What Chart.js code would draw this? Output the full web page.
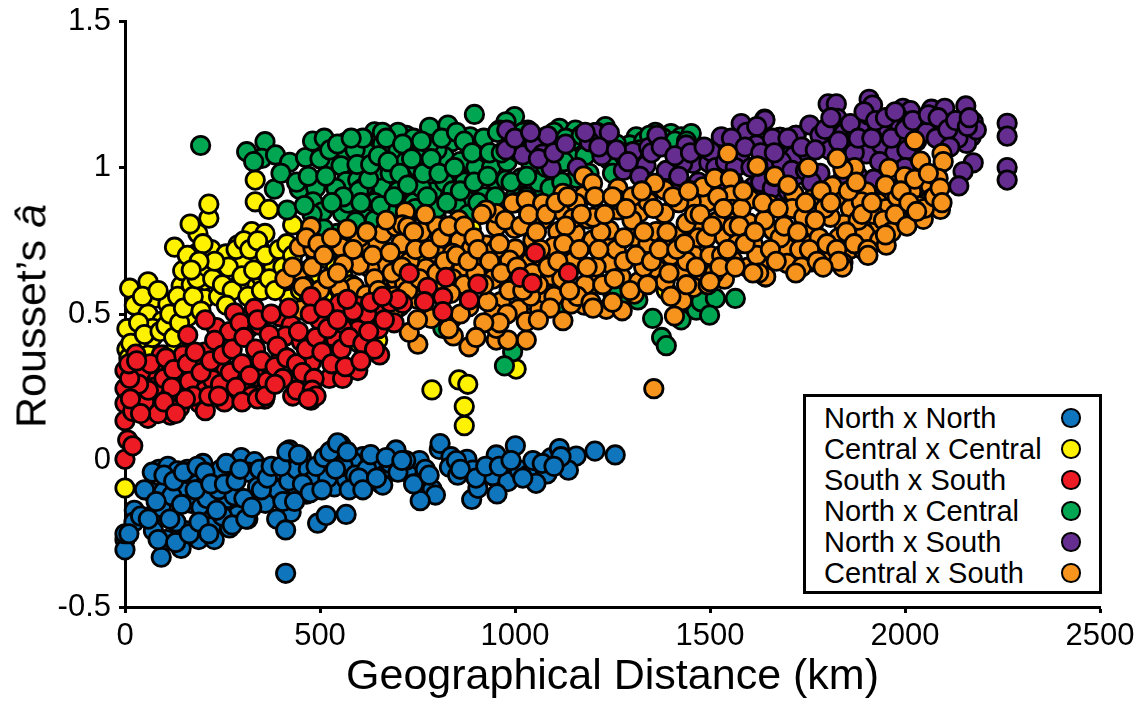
<!DOCTYPE html>
<html>
<head>
<meta charset="utf-8">
<style>
    html, body { margin: 0; background: #fff; }
    #wrap { position: relative; width: 1147px; height: 703px; overflow: hidden; font-family: "Liberation Sans", Arial, sans-serif; color: #000; }
    #yTitle { position: absolute; left: 31px; top: 316px; font-size: 43px; white-space: nowrap; transform: translate(-50%, -50%) rotate(-90deg); }
    #legendBox { position: absolute; left: 803px; top: 394px; width: 293px; height: 194px; border: 3.5px solid #000; background: #fff; }
    .row { position: absolute; left: 18px; width: 268px; height: 31px; line-height: 31px; font-size: 29px; white-space: nowrap; }
    .dot { position: absolute; left: 237px; top: 5px; width: 15.5px; height: 15.5px; border: 2.8px solid #000; border-radius: 50%; }
</style>
</head>
<body>
<div id="wrap">
    <canvas id="myChart" width="1147" height="703"></canvas>
    <div id="yTitle">Rousset’s <i>â</i></div>
    <div id="legendBox"></div>
</div>
<script src="https://cdn.jsdelivr.net/npm/chart.js@4"></script>
<script>
    const xTicks = [0, 500, 1000, 1500, 2000, 2500];
    const yTicks = [-0.5, 0, 0.5, 1, 1.5];
    const seriesNames = ["North x North", "Central x Central", "South x South", "North x Central", "North x South", "Central x South"];
    const seriesColors = ["#0f75bc", "#fff200", "#ed1c24", "#00a651", "#662d91", "#f7941d"];
    // higher number is painted first
    const paintOrder = [6, 5, 1, 4, 3, 2];

    // [distance km, rousset a]
    const northNorth = [[0,-.27],[0,-.305],[0,-.25],[24,-.17],[23,-.21],[67,-.19],[73,-.24],[93,-.33],[105,-.27],[144,-.30],[189,-.27],[229,-.27],[157,-.24],[131,-.21],[93,-.16],[65,-.106],[99,-.106],[87,-.03],[110,-.02],[135,-.035],[153,-.106],[170,-.146],[195,-.16],[225,-.197],[221,-.226],[268,-.23],[289,-.186],[315,-.20],[264,-.13],[200,-.01],[174,-.04],[246,-.03],[298,.01],[332,-.004],[315,-.04],[319,-.135],[360,-.146],[392,-.10],[386,-.035],[426,.013],[422,.036],[452,.013],[426,-.046],[426,-.177],[389,-.20],[412,-.237],[412,-.385],[494,-.214],[516,-.188],[567,-.184],[499,-.06],[465,-.115],[443,-.11],[537,-.09],[567,-.064],[610,.013],[554,.053],[533,.036],[520,-.004],[584,-.004],[635,-.02],[665,-.05],[695,.036],[657,-.08],[661,-.084],[723,-.038],[755,0],[806,.038],[808,.058],[788,-.099],[796,-.118],[757,-.137],[836,.013],[877,.004],[832,-.023],[853,-.05],[892,-.033],[889,-.133],[905,-.095],[952,.019],[1001,.05],[973,-.021],[943,-.052],[982,-.072],[954,-.114],[1011,-.033],[1033,-.05],[1046,0],[1093,.01],[1114,.041],[1157,.015],[1082,-.046],[1054,-.078],[1137,-.033],[1205,.032],[1257,.019],[1118,.013],[120,-.12],[160,-.03],[210,-.13],[240,-.10],[250,-.19],[280,-.12],[340,-.09],[360,-.03],[420,-.07],[440,-.03],[470,-.03],[480,-.07],[520,-.06],[560,-.02],[590,-.05],[620,-.03],[680,-.01],[720,0],[10,-.25],[40,-.19],[50,-.1],[60,-.2],[70,-.04],[80,-.14],[85,-.27],[100,-.05],[115,-.2],[125,-.07],[130,-.28],[145,-.15],[150,-.04],[165,-.25],[180,-.10],[185,-.02],[190,-.21],[205,-.04],[215,-.25],[220,-.08],[235,-.17],[255,-.08],[260,-.01],[275,-.22],[285,-.07],[295,-.03],[305,-.13],[310,-.20],[325,-.16],[345,-.03],[350,-.1],[365,-.06],[375,-.02],[400,-.02],[405,-.14],[415,.03],[435,-.14],[445,.02],[455,-.08],[475,-.11],[490,-.02],[505,-.1],[510,.01],[525,.03],[540,-.03],[545,.06],[570,.03],[575,-.1],[600,-.06],[610,-.1],[630,.02],[645,-.06],[670,.01],[700,-.04],[710,0],[740,-.08],[770,-.03],[780,-.05],[850,0],[860,-.03],[900,-.06],[925,-.02],[960,-.02],[990,0],[1020,-.06],[1070,-.01],[1100,-.02]];
    const centralCentral = [[12,.588],[59,.61],[24,.53],[75,.553],[110,.534],[59,.50],[95,.476],[18,.451],[20,.428],[71,.451],[165,.536],[144,.596],[204,.553],[161,.491],[127,.728],[148,.648],[182,.705],[187,.775],[167,.807],[215,.827],[215,.875],[221,.72],[238,.659],[204,.614],[259,.705],[290,.736],[325,.781],[359,.775],[317,.69],[302,.673],[345,.724],[345,.622],[311,.591],[292,.599],[400,.718],[358,.644],[334,.957],[334,.883],[369,.857],[430,.804],[512,.69],[567,.741],[396,.593],[422,.553],[558,.633],[648,.41],[0,-.094],[5,.38],[30,.40],[60,.36],[100,.36],[130,.38],[10,.35],[70,.42],[787,.241],[856,.275],[879,.26],[870,.184],[870,.119],[1003,.312],[380,.66],[420,.62],[450,.58],[480,.62],[530,.58],[400,.49],[600,.40],[630,.38],[640,.45],[888,.792],[806,.775],[759,.70],[1388,.58],[5,.45],[15,.40],[35,.47],[45,.56],[50,.43],[85,.58],[90,.44],[105,.46],[115,.50],[125,.42],[135,.56],[140,.47],[150,.52],[170,.60],[175,.56],[185,.62],[195,.51],[210,.66],[225,.62],[240,.56],[250,.60],[265,.66],[275,.58],[285,.72],[300,.63],[305,.75],[315,.56],[320,.72],[330,.65],[340,.75],[350,.58],[360,.70],[370,.62],[385,.58],[395,.72],[405,.66],[415,.74],[430,.70],[440,.63],[460,.60],[470,.54],[490,.70],[510,.55],[540,.66],[545,.50],[570,.48],[590,.45],[610,.48],[580,.60],[160,.70],[200,.74],[230,.68],[260,.53],[190,.68],[170,.65]];
    const southSouth = [[281,.504],[332,.519],[234,.454],[206,.48],[161,.428],[317,.451],[398,.491],[426,.462],[412,.425],[452,.406],[477,.559],[500,.477],[550,.536],[597,.527],[653,.497],[597,.445],[558,.451],[268,.44],[345,.462],[541,.41],[0,.307],[0,.246],[0,.195],[0,.136],[20,.167],[7,.07],[0,.004],[20,.05],[56,.263],[59,.144],[116,.155],[118,.22],[118,.315],[93,.36],[28,.363],[149,.272],[187,.315],[234,.315],[204,.238],[191,.195],[206,.17],[266,.218],[315,.24],[358,.209],[358,.258],[358,.30],[400,.363],[432,.28],[477,.206],[477,.334],[524,.28],[558,.28],[597,.307],[653,.36],[520,.363],[204,.37],[149,.36],[310,.275],[259,.31],[46,.23],[88,.207],[225,.275],[336,.286],[536,.332],[122,.19],[20,.31],[80,.298],[729,.639],[776,.591],[823,.625],[815,.557],[768,.542],[712,.536],[815,.508],[905,.602],[883,.548],[1013,.625],[1044,.605],[1052,.709],[1137,.641],[620,.50],[680,.54],[650,.45],[700,.55],[690,.47],[30,.22],[40,.30],[50,.20],[65,.33],[75,.25],[85,.16],[100,.28],[105,.35],[125,.31],[135,.24],[140,.18],[160,.33],[165,.27],[175,.22],[180,.37],[195,.30],[215,.22],[220,.34],[230,.41],[245,.26],[250,.36],[255,.20],[270,.30],[275,.38],[285,.25],[295,.47],[300,.33],[305,.42],[320,.29],[325,.22],[335,.38],[340,.48],[350,.34],[365,.27],[370,.43],[375,.50],[385,.32],[390,.39],[405,.28],[415,.35],[420,.52],[440,.33],[445,.44],[455,.30],[465,.38],[475,.50],[485,.28],[490,.42],[505,.37],[510,.52],[520,.45],[530,.33],[545,.48],[555,.38],[565,.32],[575,.42],[585,.51],[610,.40],[625,.44],[640,.38],[665,.48],[605,.34],[630,.54],[660,.56],[570,.55],[430,.22],[440,.24],[480,.24],[490,.22],[300,.20],[340,.21],[360,.22],[385,.26],[240,.22],[155,.21],[120,.25],[60,.24],[35,.26],[12,.28],[14,.21],[40,.16],[100,.20],[130,.16],[470,.21],[10,.33],[30,.34]];
    const northCentral = [[194,1.075],[312,1.054],[359,1.088],[351,1.031],[386,1.043],[422,1.018],[463,1.034],[481,1.09],[511,1.10],[565,1.085],[567,1.037],[533,1.014],[554,1.006],[618,.997],[642,1.103],[640,1.122],[687,1.105],[644,.969],[687,.98],[383,.926],[447,.926],[489,.931],[482,.883],[416,.855],[567,.952],[541,.929],[506,.849],[648,.90],[618,.857],[558,.844],[592,.815],[676,.849],[544,.775],[572,.878],[597,.957],[640,.82],[781,1.137],[828,1.145],[896,1.181],[838,1.088],[885,1.105],[757,1.054],[819,1.037],[943,1.039],[909,1.043],[794,.989],[738,.963],[768,.948],[856,.966],[789,.917],[885,.912],[832,.878],[875,.889],[798,.834],[721,1.11],[999,1.174],[977,1.156],[1033,1.128],[960,1.128],[947,.957],[977,.957],[1016,.965],[1041,1.014],[1114,1.134],[1155,1.128],[1110,1.077],[1140,1.035],[1148,1.094],[1232,1.14],[1311,1.105],[1294,1.077],[1400,1.116],[1426,1.105],[1452,1.116],[1242,1.025],[1157,.963],[1063,.912],[994,.371],[973,.323],[815,.451],[836,.48],[1353,.485],[1426,.48],[1376,.42],[1388,.392],[1465,.513],[1477,.542],[1514,.553],[1499,.496],[1565,.553],[1315,.548],[1272,.536],[1114,.525],[1251,.57],[620,1.05],[660,1.08],[700,1.06],[720,1.02],[660,.93],[700,.92],[740,.88],[760,.85],[800,.86],[850,.87],[720,.82],[640,.88],[610,.93],[680,.98],[750,1.0],[800,1.06],[860,1.02],[900,1.0],[940,1.0],[980,1.02],[1000,.9],[1060,.95],[1090,1.03],[1200,1.06],[1240,1.09],[1330,1.09],[1380,1.1],[1400,1.08],[1360,1.12],[1000,.88],[920,.9],[870,.95],[820,.95],[760,.93],[700,1.12],[740,1.1],[780,1.08],[660,1.12],[1000,1.1],[1050,1.07],[880,.84],[840,.92],[600,.92],[560,.9],[530,.88],[590,1.06],[610,1.1],[330,1.02],[400,.98],[440,.95],[470,.97],[500,1.03],[515,.97],[525,1.06],[545,1.08],[580,1.1],[595,1.01],[605,.88],[625,.96],[630,1.01],[650,1.04],[655,.87],[670,1.1],[675,1.02],[690,.9],[705,.98],[712,1.08],[725,.94],[735,1.03],[745,.86],[760,1.09],[765,.98],[775,.9],[785,1.03],[805,.98],[812,1.1],[825,.88],[845,1.0],[850,1.12],[860,.92],[870,1.09],[890,1.05],[895,.95],[905,.88],[920,1.1],[930,.97],[935,1.05],[950,.9],[955,1.12],[965,1.05],[990,.95],[1010,1.05],[1020,1.12],[1030,.97],[1070,1.1],[1080,1.0],[1100,1.12],[1125,1.02],[1130,1.1],[1170,1.11],[1180,1.04],[1210,1.12],[1260,1.08],[1280,1.04],[1320,1.06],[1345,1.11],[1410,1.09],[1440,1.09],[1030,.9],[1090,.93],[1120,.95],[1190,.98],[1250,.98],[1300,1.0],[1060,.87],[720,.78],[620,.78],[590,.75],[510,.79],[550,.72],[480,.84],[460,.87]];
    const northSouth = [[979,1.128],[1020,1.043],[1050,1.08],[1084,1.108],[1071,1.046],[1093,.997],[977,1.06],[1205,1.119],[1242,1.119],[1191,1.088],[1223,1.04],[1278,.99],[1302,1.054],[1343,1.068],[1336,1.008],[1364,1.11],[1439,1.077],[1456,1.014],[1497,1.016],[1529,1.105],[1503,1.054],[1600,1.128],[1580,1.15],[1640,1.165],[1680,1.103],[1685,1.02],[1721,1.11],[1576,1.043],[1652,1.014],[1405,.923],[1388,.99],[1430,1.014],[1704,1.04],[1641,1.162],[1594,1.12],[1679,1.103],[1720,1.11],[1756,1.145],[1782,1.11],[1803,1.217],[1824,1.217],[1826,1.168],[1884,1.137],[1843,1.117],[1905,1.18],[1908,1.233],[1917,1.213],[1957,1.13],[1995,1.202],[2014,1.194],[1985,1.168],[1987,1.145],[2068,1.199],[2047,1.162],[2072,1.145],[2102,1.202],[2098,1.145],[2156,1.21],[2175,1.156],[2147,1.14],[2170,1.105],[2158,1.082],[2175,1.016],[2149,.986],[2138,.937],[2262,1.151],[2262,1.107],[2262,1.0],[2262,.957],[1716,1.04],[1752,1.048],[1683,1.02],[1807,1.06],[1850,1.082],[1901,1.046],[1940,1.077],[1974,1.05],[1991,1.10],[1619,1.077],[1722,.974],[1782,.98],[1901,.94],[1944,.934],[1611,.934],[1679,.90],[2034,1.128],[2123,1.117],[2183,1.128],[2136,1.10],[1000,1.1],[1040,1.12],[1060,1.03],[1100,1.05],[1130,1.08],[1160,1.0],[1180,1.12],[1215,1.07],[1260,1.06],[1290,1.02],[1320,.97],[1350,1.05],[1375,1.07],[1410,1.04],[1420,.97],[1450,1.05],[1470,.95],[1485,1.07],[1515,1.0],[1540,1.02],[1555,1.1],[1565,1.0],[1590,1.07],[1605,1.0],[1620,1.14],[1630,1.05],[1660,1.1],[1665,1.05],[1700,1.1],[1710,.99],[1735,1.07],[1745,.99],[1770,1.06],[1795,1.13],[1810,1.17],[1830,1.09],[1860,1.15],[1870,1.05],[1880,1.1],[1895,1.19],[1915,1.1],[1925,1.16],[1935,1.02],[1950,1.17],[1965,1.1],[1975,1.19],[2000,1.13],[2005,1.06],[2020,1.16],[2030,1.09],[2055,1.12],[2060,1.18],[2080,1.1],[2085,1.17],[2110,1.13],[2115,1.07],[2130,1.16],[2160,1.14],[2165,1.17],[1630,.95],[1660,.93],[1700,.92],[1760,.95],[1840,.96],[1880,.97],[1920,.96],[1960,.93],[2000,1.0],[1520,.95],[1450,.92],[1480,.9],[1560,.95]];
    const centralSouth = [[447,.728],[477,.798],[447,.648],[482,.724],[554,.728],[610,.724],[661,.673],[628,.656],[601,.667],[648,.744],[661,.775],[588,.593],[550,.588],[678,.588],[700,.696],[695,.798],[695,.616],[452,.514],[500,.582],[456,.593],[618,.565],[704,.525],[719,.849],[711,.804],[708,.741],[725,.798],[798,.707],[858,.75],[856,.821],[840,.707],[888,.724],[952,.798],[952,.843],[999,.792],[926,.855],[994,.878],[1029,.89],[1070,.821],[1071,.878],[1001,.722],[947,.678],[1046,.752],[926,.735],[864,.653],[772,.656],[717,.604],[943,.619],[909,.661],[986,.684],[1097,.684],[1095,.63],[1123,.912],[1176,.971],[1176,.903],[1199,.946],[1110,.781],[1155,.775],[1187,.824],[1123,.849],[1157,.878],[1148,.826],[1238,.741],[1242,.673],[1208,.602],[1199,.752],[1242,.786],[1264,.929],[1264,.855],[1264,.889],[1319,.846],[1306,.764],[1341,.741],[1362,.781],[1383,.843],[1383,.923],[1358,.946],[1341,.883],[1420,.766],[1456,.705],[1383,.735],[1362,.656],[1385,.61],[1428,.644],[1479,.644],[1458,.591],[1317,.61],[1306,.568],[1272,.627],[1208,.661],[1429,.545],[1409,.493],[1234,.516],[1275,.511],[1178,.53],[1144,.534],[1123,.477],[1063,.517],[1009,.517],[964,.542],[947,.502],[1029,.411],[952,.411],[982,.411],[952,.451],[882,.388],[842,.425],[751,.397],[729,.437],[1076,.57],[1029,.474],[882,.525],[785,.485],[930,.542],[1537,.619],[1558,.684],[1511,.639],[1597,.659],[1642,.627],[1610,.735],[1697,.673],[1661,.786],[1708,.77],[1597,.81],[1537,.764],[1517,.815],[1494,.883],[1452,.883],[1482,.934],[1512,.963],[1552,.961],[1554,.906],[1600,.892],[1556,.857],[1654,.872],[1712,.861],[1546,1.048],[1623,1.005],[1665,.969],[1473,.786],[1558,.798],[1644,.695],[1700,.73],[1439,.81],[1621,1.005],[1666,.971],[1752,1.0],[2025,1.092],[2095,1.048],[2040,1.022],[2098,1.02],[1959,.997],[1871,1.0],[1841,.994],[1826,1.031],[1999,.969],[2065,.937],[2085,.963],[2017,.917],[1970,.898],[2065,.891],[2036,.869],[2091,.857],[2047,.823],[1987,.818],[1934,.806],[1931,.88],[1897,.775],[1860,.86],[1823,.898],[1814,.937],[1901,.917],[1762,.892],[1715,.91],[1711,.86],[1653,.874],[1602,.892],[1600,.81],[1662,.786],[1709,.772],[1611,.738],[1696,.726],[1760,.738],[1843,.806],[1809,.83],[1935,.752],[1952,.735],[1860,.722],[1817,.709],[1893,.718],[1841,.675],[1840,.66],[1760,.678],[1698,.673],[1641,.69],[1598,.659],[1643,.627],[1797,.695],[1764,.798],[1794,.86],[1952,.86],[1888,.883],[1356,.245],[760,.78],[800,.80],[730,.68],[690,.56],[640,.62],[600,.76],[560,.67],[520,.62],[480,.66],[840,.62],[870,.60],[790,.59],[750,.55],[1040,.68],[1060,.60],[1100,.56],[1150,.68],[1180,.60],[1220,.78],[1260,.72],[1280,.68],[1300,.82],[1330,.66],[1400,.70],[1440,.68],[1470,.76],[1500,.70],[1530,.70],[1570,.74],[1620,.70],[1680,.76],[1730,.72],[1780,.76],[1830,.76],[1880,.82],[1920,.84],[1980,.90],[1100,.73],[1130,.8],[1200,.83],[1300,.9],[1420,.88],[1460,.84],[1520,.9],[1580,.86],[1640,.82],[1740,.83],[1000,.6],[1040,.56],[950,.72],[900,.64],[1120,.62],[1160,.56],[410,.62],[430,.66],[465,.76],[495,.74],[510,.70],[530,.76],[545,.64],[570,.79],[585,.72],[620,.78],[635,.70],[650,.58],[670,.82],[680,.71],[685,.64],[710,.66],[725,.58],[740,.78],[745,.72],[755,.62],[770,.84],[780,.72],[800,.64],[810,.76],[820,.68],[830,.80],[835,.57],[850,.70],[870,.80],[880,.68],[895,.76],[905,.72],[915,.84],[920,.60],[935,.68],[960,.74],[965,.64],[975,.82],[985,.58],[1005,.66],[1015,.80],[1020,.58],[1035,.84],[1045,.64],[1055,.78],[1065,.72],[1080,.84],[1085,.66],[1105,.88],[1110,.68],[1125,.74],[1135,.90],[1140,.58],[1165,.72],[1170,.84],[1185,.66],[1195,.54],[1205,.90],[1215,.72],[1225,.60],[1230,.84],[1250,.90],[1255,.62],[1280,.76],[1285,.86],[1295,.58],[1310,.70],[1325,.92],[1330,.78],[1350,.68],[1355,.86],[1370,.72],[1390,.78],[1395,.64],[1405,.90],[1415,.72],[1435,.74],[1440,.60],[1445,.92],[1465,.66],[1475,.84],[1490,.76],[1495,.60],[1505,.80],[1525,.66],[1535,.86],[1545,.72],[1565,.66],[1575,.80],[1585,.92],[1590,.74],[1615,.78],[1625,.64],[1635,.88],[1655,.72],[1670,.68],[1675,.86],[1690,.80],[1700,.94],[1725,.78],[1735,.66],[1745,.88],[1755,.72],[1770,.82],[1775,.68],[1785,.92],[1800,.74],[1810,.88],[1825,.72],[1830,.68],[1850,.78],[1855,.92],[1870,.74],[1875,.95],[1890,.84],[1905,.72],[1915,.88],[1945,.82],[1950,.94],[1965,.78],[1975,.84],[1990,.92],[2005,.80],[2010,.88],[2025,.96],[2050,.86],[2060,.98],[2075,.90],[2090,.93],[2095,.88],[2030,.85],[1950,.77],[1905,.70],[1790,.66],[1720,.64],[1610,.64],[1500,.61],[1400,.56],[1340,.60],[1250,.54],[1200,.52],[1090,.52],[1060,.48],[980,.50],[960,.47],[920,.47],[900,.42],[860,.50],[830,.45],[750,.48],[690,.51]];

    const allSeries = [northNorth, centralCentral, southSouth, northCentral, northSouth, centralSouth];
    const axisFont = { family: "'Liberation Sans', Arial, sans-serif", size: 31 };

    function useTicks(values) {
        return (scale) => { scale.ticks = values.map((v) => ({ value: v })); };
    }

    let myChart = new Chart("myChart", {
        type: "scatter",
        data: {
            datasets: allSeries.map((pairs, i) => ({
                label: seriesNames[i],
                data: pairs.map((p) => ({ x: p[0], y: p[1] })),
                backgroundColor: seriesColors[i],
                borderColor: "#000",
                pointBorderWidth: 2.8,
                pointRadius: 9.2,
                order: paintOrder[i],
                clip: false
            }))
        },
        options: {
            responsive: false,
            animation: false,
            layout: { padding: { top: 21, right: 47, left: 0, bottom: 0 } },
            plugins: { legend: { display: false }, tooltip: { enabled: false } },
            scales: {
                x: {
                    min: 0,
                    max: 2500,
                    afterBuildTicks: useTicks(xTicks),
                    afterFit: (s) => { s.height = 96; s.paddingLeft = 0; s.paddingRight = 0; },
                    border: { color: "#000", width: 3 },
                    grid: { drawOnChartArea: false, tickColor: "#000", tickLength: 6, tickWidth: 3 },
                    ticks: { color: "#000", font: axisFont, padding: 5, maxRotation: 0, autoSkip: false, callback: (v) => String(v) },
                    title: {
                        display: true,
                        text: "Geographical Distance (km)",
                        color: "#000",
                        font: { family: axisFont.family, size: 43 },
                        padding: { top: 0, bottom: 0 }
                    }
                },
                y: {
                    min: -0.5,
                    max: 1.5,
                    afterBuildTicks: useTicks(yTicks),
                    afterFit: (s) => { s.width = 125; s.paddingTop = 0; s.paddingBottom = 0; },
                    border: { color: "#000", width: 3 },
                    grid: { drawOnChartArea: false, tickColor: "#000", tickLength: 6, tickWidth: 3 },
                    ticks: { color: "#000", font: axisFont, padding: 8, autoSkip: false, callback: (v) => String(v) }
                }
            }
        }
    });

    // html legend, the marker sits to the right of the text
    let legendBox = document.getElementById("legendBox");
    myChart.data.datasets.forEach((ds, i) => {
        let row = document.createElement("div");
        row.className = "row";
        row.style.top = (6 + i * 31) + "px";
        row.innerText = ds.label;
        let dot = document.createElement("span");
        dot.className = "dot";
        dot.style.background = ds.backgroundColor;
        row.appendChild(dot);
        legendBox.appendChild(row);
    });
</script>
</body>
</html>
